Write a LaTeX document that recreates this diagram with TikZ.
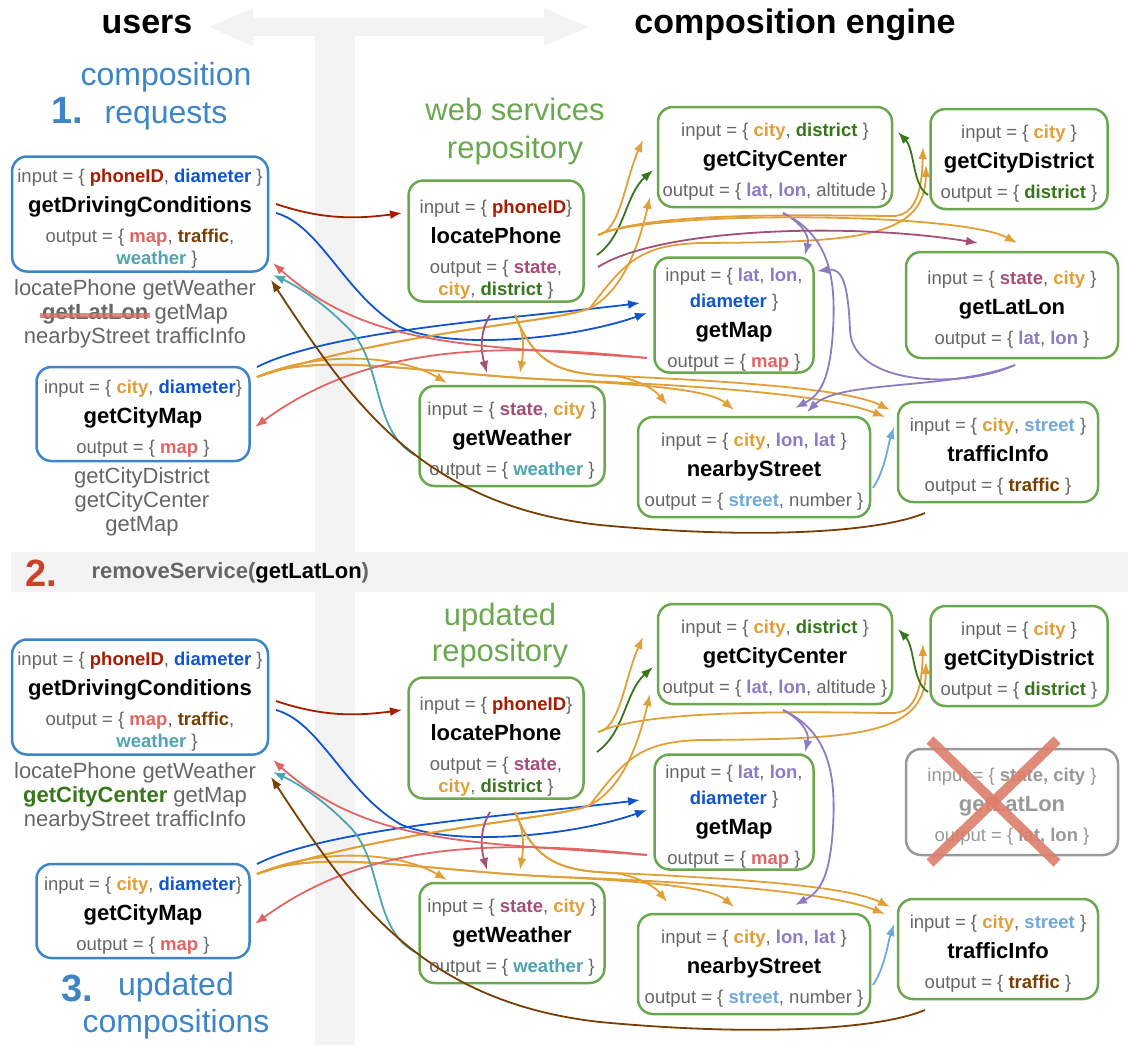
\documentclass[tikz,border=0pt]{standalone}
\usepackage{fontspec}
\setmainfont{Liberation Sans}
\usetikzlibrary{arrows.meta}

\definecolor{usr}{RGB}{61,133,198}
\definecolor{rep}{RGB}{106,168,79}
\definecolor{txtg}{RGB}{102,102,102}
\definecolor{bg}{RGB}{243,243,243}
\definecolor{gone}{RGB}{153,153,153}
\definecolor{stepred}{RGB}{204,65,37}
\definecolor{xred}{RGB}{221,126,107}
\definecolor{phone}{RGB}{166,28,0}
\definecolor{diam}{RGB}{17,85,204}
\definecolor{mapc}{RGB}{224,102,102}
\definecolor{traf}{RGB}{120,63,4}
\definecolor{wthr}{RGB}{78,164,176}
\definecolor{state}{RGB}{166,77,121}
\definecolor{city}{RGB}{225,160,55}
\definecolor{dist}{RGB}{56,118,29}
\definecolor{latlon}{RGB}{142,124,195}
\definecolor{strt}{RGB}{111,168,220}

\newcommand\fl[2]{\textcolor{#1}{\textbf{#2}}}
\newcommand\nm[1]{{\fontsize{22}{30}\selectfont\bfseries\color{black}#1}}
\newcommand\lift[1][22pt]{\rule{0pt}{#1}}

\tikzset{
    svcbox/.style={draw, line width=2.5pt, rounded corners=15pt, fill=white,
        align=center, text=txtg, inner sep=0pt,
        font=\fontsize{18.5}{30}\selectfont},
    usrbox/.style={svcbox, draw=usr},
    repbox/.style={svcbox, draw=rep},
    gonebox/.style={svcbox, draw=gone, text=gone},
    usetxt/.style={align=center, text=txtg, font=\fontsize{22}{24}\selectfont},
    wire/.style={line width=1.8pt, -{Latex[length=12pt,width=9pt]}}
}

\begin{document}
\begin{tikzpicture}[x=1pt, y=-1pt]
    \useasboundingbox (0,0) rectangle (1128,1045);

    % grey backdrop
    \fill[bg] (315,30) rectangle (355,1045);
    \fill[bg] (11,552) rectangle (1128,592);
    \draw[bg, line width=18pt, {Triangle[length=46pt,width=34pt]}-{Triangle[length=46pt,width=34pt]}] (207,27) -- (590,27);

    % headings
    \node[font=\fontsize{34}{40}\selectfont\bfseries] (users) at (147,25) {users};
    \node[font=\fontsize{34}{40}\selectfont\bfseries] (engine) at (795,25) {composition engine};
    \node[text=usr, font=\fontsize{38}{40}\selectfont\bfseries] (one) at (67,110) {1.};
    \node[text=usr, align=center, font=\fontsize{32}{38}\selectfont] (req) at (166,96) {composition\\requests};
    \node[text=rep, align=center, font=\fontsize{31}{38}\selectfont] (repo) at (515,131) {web services\\repository};
    \node[text=stepred, font=\fontsize{38}{40}\selectfont\bfseries] (two) at (41,573) {2.};
    \node[anchor=west, text=txtg, font=\fontsize{22}{26}\selectfont\bfseries] (rm) at (88,573) {removeService(\textcolor{black}{getLatLon})};
    \node[text=rep, align=center, font=\fontsize{31}{36}\selectfont] (urepo) at (500,635) {updated\\repository};
    \node[text=usr, font=\fontsize{38}{40}\selectfont\bfseries] (three) at (77,988) {3.};
    \node[text=usr, align=center, font=\fontsize{32}{37}\selectfont] (upd) at (176,1006) {updated\\compositions};

    % composition requests
    \node[usrbox, minimum width=256pt, minimum height=115pt] (gdca) at (140,214) {\lift input = \{ \fl{phone}{phoneID}, \fl{diam}{diameter} \}\\ \nm{getDrivingConditions}\\ output = \{ \fl{mapc}{map}, \fl{traf}{traffic},\hspace*{20pt}\\[-8pt] \hspace*{34pt}\fl{wthr}{weather} \}};
    \node[usetxt] (usesa) at (135,314) {locatePhone getWeather\\ \textbf{getLatLon} getMap\\ nearbyStreet trafficInfo};
    \draw[mapc, opacity=.8, line width=5pt] (40,315) -- (150,315);
    \node[usetxt] (usesc) at (142,502) {getCityDistrict\\ getCityCenter\\ getMap};

    \node[usrbox, minimum width=256pt, minimum height=115pt] (gdcb) at (140,697) {\lift input = \{ \fl{phone}{phoneID}, \fl{diam}{diameter} \}\\ \nm{getDrivingConditions}\\ output = \{ \fl{mapc}{map}, \fl{traf}{traffic},\hspace*{20pt}\\[-8pt] \hspace*{34pt}\fl{wthr}{weather} \}};
    \node[usetxt] (usesb) at (135,797) {locatePhone getWeather\\ \fl{dist}{getCityCenter} getMap\\ nearbyStreet trafficInfo};

    % getLatLon, then removed
    \node[repbox, minimum width=212pt, minimum height=106pt] (glla) at (1012,305) {\lift input = \{ \fl{state}{state}, \fl{city}{city} \}\\ \nm{getLatLon}\\ output = \{ \fl{latlon}{lat}, \fl{latlon}{lon} \}};
    \node[gonebox, minimum width=212pt, minimum height=106pt] (gllb) at (1012,802) {\lift input = \{ \textbf{state, city} \}\\ {\fontsize{22}{30}\selectfont\bfseries getLatLon}\\ output = \{ \textbf{lat, lon} \}};
    \draw[xred, opacity=.9, line width=10pt] ([shift={(-82,-62)}]gllb.center) -- ([shift={(45,61)}]gllb.center);
    \draw[xred, opacity=.9, line width=10pt] ([shift={(45,-62)}]gllb.center) -- ([shift={(-82,61)}]gllb.center);

    % both repositories
    \foreach \pn/\dy in {a/0, b/497}{
    \begin{scope}[yshift=-\dy pt]
        \coordinate (gdcx\pn) at (270,240);
        \node[usrbox, minimum width=213pt, minimum height=94pt] (gcm\pn) at (143,414) {\lift input = \{ \fl{city}{city}, \fl{diam}{diameter}\}\\ \nm{getCityMap}\\ output = \{ \fl{mapc}{map} \}};
        \node[repbox, minimum width=175pt, minimum height=121pt] (lp\pn) at (496,241) {\lift[30pt]input = \{ \fl{phone}{phoneID}\}\\ \nm{locatePhone}\\ output = \{ \fl{state}{state},\\[-8pt] \fl{city}{city}, \fl{dist}{district} \}};
        \node[repbox, minimum width=234pt, minimum height=100pt] (gcc\pn) at (775,157) {\lift input = \{ \fl{city}{city}, \fl{dist}{district} \}\\ \nm{getCityCenter}\\ output = \{ \fl{latlon}{lat}, \fl{latlon}{lon}, altitude \}};
        \node[repbox, minimum width=177pt, minimum height=100pt] (gcd\pn) at (1019,159) {\lift input = \{ \fl{city}{city} \}\\ \nm{getCityDistrict}\\ output = \{ \fl{dist}{district} \}};
        \node[repbox, minimum width=159pt, minimum height=115pt] (gm\pn) at (734,315) {\lift input = \{ \fl{latlon}{lat}, \fl{latlon}{lon},\\[-4pt] \fl{diam}{diameter} \}\\ \nm{getMap}\\ output = \{ \fl{mapc}{map} \}};
        \node[repbox, minimum width=185pt, minimum height=100pt] (gw\pn) at (512,436) {\lift input = \{ \fl{state}{state}, \fl{city}{city} \}\\ \nm{getWeather}\\ output = \{ \fl{wthr}{weather} \}};
        \node[repbox, minimum width=232pt, minimum height=100pt] (ns\pn) at (754,467) {\lift input = \{ \fl{city}{city}, \fl{latlon}{lon}, \fl{latlon}{lat} \}\\ \nm{nearbyStreet}\\ output = \{ \fl{strt}{street}, number \}};
        \node[repbox, minimum width=200pt, minimum height=100pt] (ti\pn) at (998,452) {\lift input = \{ \fl{city}{city}, \fl{strt}{street} \}\\ \nm{trafficInfo}\\ output = \{ \fl{traf}{traffic} \}};

        % inputs of the requests
        \draw[wire, phone] ([shift={(6,-36)}]gdcx\pn) .. controls (318,218) and (350,220) .. ([shift={(-94,-28)}]lp\pn.center);
        \draw[wire, diam] ([shift={(6,-27)}]gdcx\pn) .. controls (320,225) and (345,295) .. (400,327) .. controls (450,350) and (570,340) .. ([shift={(-87,-2)}]gm\pn.center);
        \draw[wire, diam] ([shift={(114,-47)}]gcm\pn.center) .. controls (330,330) and (520,318) .. ([shift={(-94,-12)}]gm\pn.center);
        \draw[wire, city] ([shift={(114,-37)}]gcm\pn.center) .. controls (400,330) and (560,322) .. (590,308) .. controls (625,290) and (640,240) .. ([shift={(-125,40)}]gcc\pn.center);
        \draw[wire, city] ([shift={(114,-37)}]gcm\pn.center) .. controls (400,330) and (560,322) .. (590,308) .. controls (625,262) and (640,245) .. (700,243) .. controls (850,242) and (925,240) .. ([shift={(-93,6)}]gcd\pn.center);
        \draw[wire, city] ([shift={(114,-37)}]gcm\pn.center) .. controls (320,350) and (400,355) .. ([shift={(-65,-53)}]gw\pn.center);
        \draw[wire, city] ([shift={(114,-37)}]gcm\pn.center) .. controls (320,350) and (430,375) .. (560,380) .. controls (700,385) and (830,395) .. ([shift={(-113,-35)}]ti\pn.center);
        \draw[wire, city] ([shift={(114,-37)}]gcm\pn.center) .. controls (320,350) and (430,375) .. (560,380) .. controls (650,385) and (710,390) .. ([shift={(-20,-57)}]ns\pn.center);

        % outputs of locatePhone
        \draw[wire, state] ([shift={(-6,74)}]lp\pn.center) .. controls (478,335) and (482,355) .. ([shift={(-25,-63)}]gw\pn.center);
        \draw[wire, dist] ([shift={(101,14)}]lp\pn.center) .. controls (625,235) and (625,195) .. ([shift={(-122,13)}]gcc\pn.center);
        \draw[wire, city] ([shift={(102,-6)}]lp\pn.center) .. controls (620,232) and (625,180) .. ([shift={(-132,-17)}]gcc\pn.center);
        \draw[wire, city] ([shift={(102,-6)}]lp\pn.center) .. controls (650,212) and (800,215) .. (890,216) .. controls (918,218) and (922,185) .. ([shift={(-96,-12)}]gcd\pn.center);
        \draw[wire, city] ([shift={(19,74)}]lp\pn.center) .. controls (526,335) and (523,355) .. ([shift={(8,-63)}]gw\pn.center);
        \draw[wire, city] ([shift={(19,74)}]lp\pn.center) .. controls (535,365) and (560,374) .. (615,376) .. controls (640,380) and (655,390) .. ([shift={(-87,-62)}]ns\pn.center);
        \draw[wire, city] ([shift={(19,74)}]lp\pn.center) .. controls (535,365) and (560,374) .. (615,376) .. controls (750,382) and (850,390) .. ([shift={(-108,-42)}]ti\pn.center);

        % other services
        \draw[wire, dist] ([shift={(-91,36)}]gcd\pn.center) .. controls (912,185) and (915,150) .. ([shift={(123,-25)}]gcc\pn.center);
        \draw[wire, latlon] ([shift={(8,56)}]gcc\pn.center) .. controls (800,222) and (810,235) .. ([shift={(71,-60)}]gm\pn.center);
        \draw[wire, latlon] ([shift={(8,56)}]gcc\pn.center) .. controls (830,235) and (836,280) .. (833,330) .. controls (830,380) and (820,395) .. ([shift={(41,-59)}]ns\pn.center);
        \draw[wire, strt] ([shift={(119,21)}]ns\pn.center) .. controls (885,470) and (888,445) .. ([shift={(-104,-25)}]ti\pn.center);

        % results back to the requests
        \draw[wire, mapc] ([shift={(-87,43)}]gm\pn.center) .. controls (480,345) and (370,350) .. ([shift={(3,23)}]gdcx\pn);
        \draw[wire, mapc] ([shift={(-87,43)}]gm\pn.center) .. controls (480,340) and (360,350) .. ([shift={(112,13)}]gcm\pn.center);
        \draw[wire, wthr] ([shift={(-97,19)}]gw\pn.center) .. controls (370,430) and (385,360) .. (345,325) .. controls (320,300) and (295,285) .. ([shift={(3,35)}]gdcx\pn);
        \draw[wire, traf] ([shift={(-73,61)}]ti\pn.center) .. controls (880,532) and (760,540) .. (600,525) .. controls (420,505) and (350,400) .. ([shift={(1,40)}]gdcx\pn);
    \end{scope}
    }

    % links of getLatLon (first repository only)
    \draw[wire, state] ([shift={(102,26)}]lpa.center) .. controls (660,228) and (850,222) .. ([shift={(-34,-62)}]glla.center);
    \draw[wire, city] ([shift={(102,-6)}]lpa.center) .. controls (650,210) and (960,212) .. ([shift={(5,-62)}]glla.center);
    \draw[wire, latlon] ([shift={(3,60)}]glla.center) .. controls (960,390) and (852,385) .. (850,330) .. controls (848,282) and (842,268) .. ([shift={(83,-44)}]gma.center);
    \draw[wire, latlon] ([shift={(3,60)}]glla.center) .. controls (950,390) and (840,380) .. ([shift={(53,-55)}]nsa.center);

\end{tikzpicture}
\end{document}
